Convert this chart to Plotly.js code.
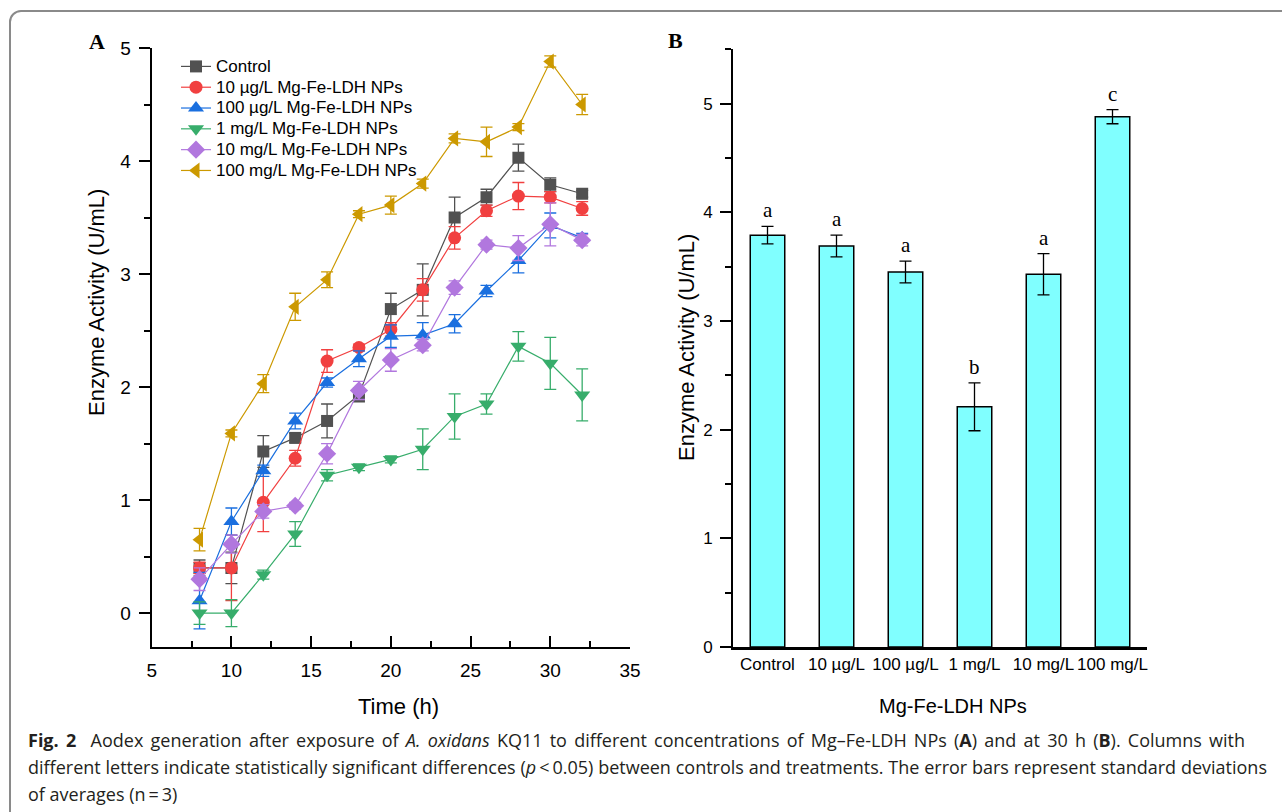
<!DOCTYPE html>
<html>
<head>
<meta charset="utf-8">
<script src="https://cdn.plot.ly/plotly-3.0.1.min.js"></script>
<style>
  html, body { margin: 0; padding: 0; background: #ffffff; }
  #wrap { position: relative; width: 1282px; height: 812px; overflow: hidden; }
  #frame { position: absolute; left: 9px; top: 10px; width: 1300px; height: 830px;
           border: 2px solid #8a8a8a; border-radius: 12px; box-sizing: border-box; }
  #chart { position: absolute; left: 0; top: 0; width: 1282px; height: 812px; }
  #caption { position: absolute; left: 28px; top: 727px; font-family: "Open Sans", "Noto Sans", sans-serif;
             font-size: 18px; line-height: 27px; color: #231f20; white-space: nowrap; }
  #caption .ln { display: block; }
  #caption .j { text-align: justify; text-align-last: justify; white-space: normal; }
</style>
</head>
<body>
<div id="wrap">
  <div id="frame"></div>
  <div id="chart"></div>
  <div id="caption">
    <span class="ln j" style="width:1217px"><b>Fig. 2</b>&nbsp; Aodex generation after exposure of <i>A. oxidans</i> KQ11 to different concentrations of Mg–Fe-LDH NPs (<b>A</b>) and at 30 h (<b>B</b>). Columns with</span>
    <span class="ln j" style="width:1239px">different letters indicate statistically significant differences (<i>p</i>&thinsp;&lt;&thinsp;0.05) between controls and treatments. The error bars represent standard deviations</span>
    <span class="ln">of averages (n&thinsp;=&thinsp;3)</span>
  </div>
</div>
<script>
// ---- Panel A data ----
const times = [8, 10, 12, 14, 16, 18, 20, 22, 24, 26, 28, 30, 32];
const seriesNames = ["Control", "10 µg/L Mg-Fe-LDH NPs", "100 µg/L Mg-Fe-LDH NPs",
                     "1 mg/L Mg-Fe-LDH NPs", "10 mg/L Mg-Fe-LDH NPs", "100 mg/L Mg-Fe-LDH NPs"];
const control    = [0.40, 0.40, 1.43, 1.55, 1.70, 1.93, 2.69, 2.86, 3.50, 3.68, 4.03, 3.79, 3.71];
const controlErr = [0.07, 0.14, 0.14, 0.04, 0.15, 0.06, 0.14, 0.23, 0.18, 0.07, 0.12, 0.06, 0.03];
const ug10       = [0.40, 0.40, 0.98, 1.37, 2.23, 2.35, 2.51, 2.86, 3.32, 3.56, 3.69, 3.68, 3.58];
const ug10Err    = [0.05, 0.29, 0.26, 0.07, 0.10, 0.03, 0.06, 0.10, 0.10, 0.05, 0.12, 0.05, 0.06];
const ug100      = [0.11, 0.81, 1.26, 1.70, 2.04, 2.25, 2.45, 2.46, 2.56, 2.85, 3.12, 3.43, 3.32];
const ug100Err   = [0.25, 0.12, 0.05, 0.07, 0.04, 0.07, 0.10, 0.11, 0.08, 0.05, 0.11, 0.11, 0.04];
const mg1        = [0.00, 0.00, 0.34, 0.70, 1.22, 1.29, 1.36, 1.45, 1.74, 1.85, 2.36, 2.21, 1.93];
const mg1Err     = [0.10, 0.12, 0.04, 0.11, 0.05, 0.03, 0.03, 0.18, 0.20, 0.09, 0.13, 0.23, 0.23];
const mg10       = [0.30, 0.61, 0.90, 0.95, 1.41, 1.97, 2.24, 2.37, 2.88, 3.26, 3.23, 3.44, 3.30];
const mg10Err    = [0.10, 0.08, 0.06, 0.03, 0.09, 0.08, 0.10, 0.05, 0.06, 0.04, 0.11, 0.19, 0.05];
const mg100      = [0.65, 1.59, 2.03, 2.71, 2.95, 3.53, 3.61, 3.80, 4.20, 4.17, 4.30, 4.88, 4.50];
const mg100Err   = [0.10, 0.03, 0.08, 0.12, 0.07, 0.03, 0.08, 0.04, 0.04, 0.13, 0.03, 0.05, 0.09];

// ---- Panel B data ----
const categories = ["Control", "10 µg/L", "100 µg/L", "1 mg/L", "10 mg/L", "100 mg/L"];
const barVals    = [3.79, 3.69, 3.45, 2.21, 3.43, 4.88];
const barErr     = [0.08, 0.10, 0.10, 0.22, 0.19, 0.065];
const letters    = ["a", "a", "a", "b", "a", "c"];

const values = [control, ug10, ug100, mg1, mg10, mg100];
const errors = [controlErr, ug10Err, ug100Err, mg1Err, mg10Err, mg100Err];
const colors = ["#515151", "#F14040", "#1A6FDF", "#37AD6B", "#B177DE", "#CC9900"];
const symbols = ["square", "circle", "triangle-up", "triangle-down", "diamond", "triangle-left"];
const sizes = [12, 13, 14, 14, 14, 14];

const W = 1282, H = 812;
const px = v => v / W;
const py = v => 1 - v / H;

const traces = [];
for (let i = 0; i < values.length; i++) {
  traces.push({
    type: "scatter", mode: "lines+markers",
    name: '<span style="font-size:17px">' + seriesNames[i] + '</span>',
    x: times, y: values[i], xaxis: "x", yaxis: "y",
    line: { color: colors[i], width: 1.2 },
    marker: { color: colors[i], symbol: symbols[i], size: sizes[i], line: { width: 0 } },
    error_y: { type: "data", array: errors[i], visible: true, color: colors[i], thickness: 1.3, width: 6 }
  });
}
traces.push({
  type: "bar", x: categories, y: barVals, xaxis: "x2", yaxis: "y2", width: 0.5, showlegend: false,
  marker: { color: "#80FFFF", line: { color: "#000000", width: 1.5 } },
  error_y: { type: "data", array: barErr, visible: true, color: "#000000", thickness: 1.3, width: 6 }
});

const sans = "Arial, 'Liberation Sans', sans-serif";
const tickFontA = { family: sans, size: 19, color: "#000" };
const tickFontB = { family: sans, size: 17, color: "#000" };
const titleFont = { family: sans, size: 22, color: "#000" };
const serif = { family: "'Liberation Serif', 'Times New Roman', serif", size: 21, color: "#000" };

const annotations = [
  { text: "<b>A</b>", x: px(97), y: py(42), xref: "paper", yref: "paper", showarrow: false,
    xanchor: "center", yanchor: "middle", font: { family: serif.family, size: 22, color: "#000" } },
  { text: "<b>B</b>", x: px(676), y: py(41), xref: "paper", yref: "paper", showarrow: false,
    xanchor: "center", yanchor: "middle", font: { family: serif.family, size: 22, color: "#000" } },
  { text: "Time (h)", x: px(398), y: py(706), xref: "paper", yref: "paper", showarrow: false,
    xanchor: "center", yanchor: "middle", font: titleFont },
  { text: "Enzyme Activity (U/mL)", x: px(97), y: py(303), xref: "paper", yref: "paper", showarrow: false,
    xanchor: "center", yanchor: "middle", textangle: -90, font: titleFont },
  { text: "Mg-Fe-LDH NPs", x: px(953), y: py(706), xref: "paper", yref: "paper", showarrow: false,
    xanchor: "center", yanchor: "middle", font: { family: sans, size: 20, color: "#000" } },
  { text: "Enzyme Activity (U/mL)", x: px(686), y: py(348), xref: "paper", yref: "paper", showarrow: false,
    xanchor: "center", yanchor: "middle", textangle: -90, font: titleFont }
];
for (let i = 0; i < categories.length; i++) {
  annotations.push({ text: letters[i], x: categories[i], y: barVals[i] + barErr[i], xref: "x2", yref: "y2",
    showarrow: false, xanchor: "center", yanchor: "bottom", yshift: 2, font: serif });
}

const layout = {
  width: W, height: H, margin: { l: 0, r: 0, t: 0, b: 0 },
  paper_bgcolor: "rgba(0,0,0,0)", plot_bgcolor: "rgba(0,0,0,0)",
  showlegend: true,
  legend: { x: px(176), y: py(51), xanchor: "left", yanchor: "top", bgcolor: "rgba(0,0,0,0)",
            borderwidth: 0, tracegroupgap: 0,
            font: { family: sans, size: 13.7, color: "#000" } },
  xaxis: {
    domain: [px(151.7), px(630)], anchor: "y", range: [5, 35], dtick: 5, tick0: 5,
    showline: true, linecolor: "#000", linewidth: 2, mirror: false,
    ticks: "inside", ticklen: 11, tickwidth: 2, tickcolor: "#000",
    minor: { dtick: 2.5, tick0: 5, ticks: "inside", ticklen: 6, tickwidth: 2, tickcolor: "#000" },
    showgrid: false, zeroline: false, tickfont: tickFontA, ticklabelstandoff: 5
  },
  yaxis: {
    domain: [py(647), py(48)], anchor: "x", range: [-0.3, 5], tickvals: [0, 1, 2, 3, 4, 5],
    showline: true, linecolor: "#000", linewidth: 2,
    ticks: "outside", ticklen: 11, tickwidth: 2, tickcolor: "#000",
    minor: { dtick: 0.5, tick0: 0, ticks: "outside", ticklen: 6, tickwidth: 2, tickcolor: "#000" },
    showgrid: false, zeroline: false, tickfont: tickFontA, ticklabelstandoff: 4
  },
  xaxis2: {
    domain: [px(733), px(1147)], anchor: "y2", type: "category", range: [-0.5, 5.5],
    showline: true, linecolor: "#000", linewidth: 2.5, ticks: "",
    showgrid: false, zeroline: false, tickfont: tickFontB, ticklabelstandoff: 0
  },
  yaxis2: {
    domain: [py(647), py(49.3)], anchor: "x2", range: [0, 5.5], tickvals: [0, 1, 2, 3, 4, 5],
    showline: true, linecolor: "#000", linewidth: 2,
    ticks: "outside", ticklen: 11, tickwidth: 2, tickcolor: "#000",
    minor: { dtick: 0.5, tick0: 0, ticks: "outside", ticklen: 6, tickwidth: 2, tickcolor: "#000" },
    showgrid: false, zeroline: false, tickfont: tickFontB, ticklabelstandoff: 4
  },
  annotations: annotations
};

Plotly.newPlot("chart", traces, layout, { displayModeBar: false, staticPlot: true });
</script>
</body>
</html>
